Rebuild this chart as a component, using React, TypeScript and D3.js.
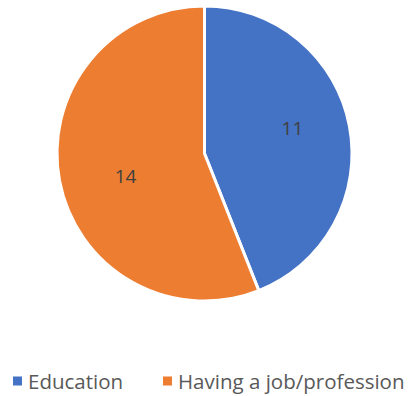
import React from "react";
import * as d3 from "d3";

const categories = ["Education", "Having a job/profession"];
const values = [11, 14];
const colors = ["#4472C4", "#ED7D31"];
const labelShift: [number, number][] = [[1, -9], [8, 6]];

export default function App() {
  const width = 409;
  const height = 396;
  const cx = 204.5;
  const cy = 153.5;
  const r = 147.5;
  const data = categories.map((c, i) => ({ c, v: values[i], color: colors[i] }));
  const pie = d3.pie<any>().value((d) => d.v).sort(null);
  const arcs = pie(data);
  const arc = d3.arc<any>().innerRadius(0).outerRadius(r);
  const labelArc = d3.arc<any>().innerRadius(r * 0.6).outerRadius(r * 0.6);
  const font = "'Open Sans', 'Noto Sans', sans-serif";
  const legendX = [13, 163];
  return (
    <svg width={width} height={height} style={{ position: "absolute", left: 0, top: 0 }}>
      <rect width={width} height={height} fill="#fff" />
      <g transform={`translate(${cx},${cy})`}>
        {arcs.map((a, i) => (
          <path key={i} d={arc(a) || ""} fill={a.data.color} stroke="#fff" strokeWidth={3} />
        ))}
        {arcs.map((a, i) => {
          const [x, y] = labelArc.centroid(a);
          return (
            <text key={"l" + i} x={x + labelShift[i][0]} y={y + labelShift[i][1]} textAnchor="middle" dominantBaseline="central"
              fontFamily={font} fontSize={19} fill="#404040">
              {a.data.v}
            </text>
          );
        })}
      </g>
      {data.map((d, i) => (
        <g key={"g" + i} transform={`translate(${legendX[i]},381)`}>
          <rect x={0} y={-4.5} width={9} height={9} fill={d.color} />
          <text x={15} y={0} dominantBaseline="central" fontFamily={font} fontSize={20.5} fill="#595959">
            {d.c}
          </text>
        </g>
      ))}
    </svg>
  );
}
